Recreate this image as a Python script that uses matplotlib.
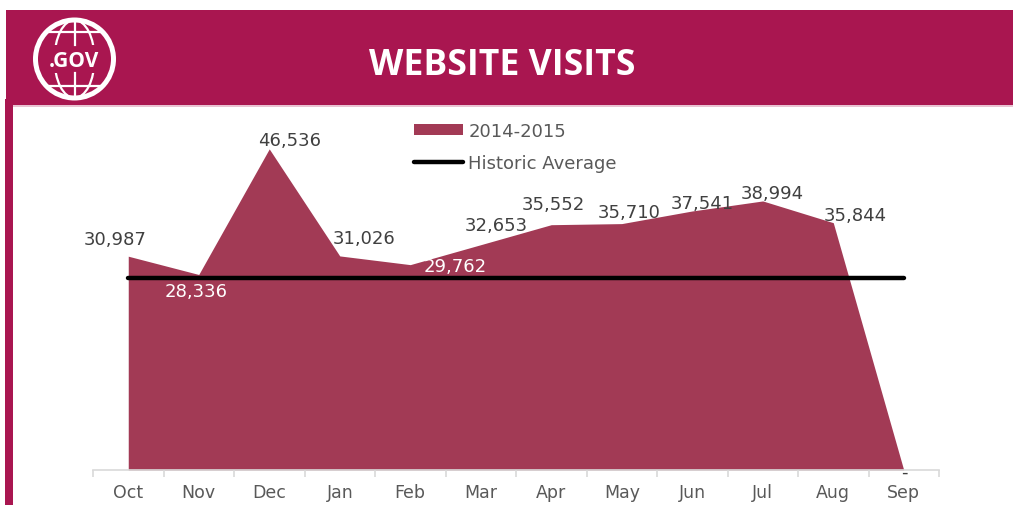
import matplotlib
matplotlib.use('Agg')
import matplotlib.pyplot as plt
import numpy as np
from matplotlib.patches import Rectangle, Circle, Ellipse

months = ['Oct', 'Nov', 'Dec', 'Jan', 'Feb', 'Mar', 'Apr', 'May', 'Jun', 'Jul', 'Aug', 'Sep']
visits = [30987, 28336, 46536, 31026, 29762, 32653, 35552, 35710, 37541, 38994, 35844, 0]
labels = ['30,987', '28,336', '46,536', '31,026', '29,762', '32,653', '35,552', '35,710',
          '37,541', '38,994', '35,844', '-']
historic_avg = [27850] * 12

W, H = 1013, 506
RED = '#A91650'
AREA = '#A23A55'
GREY = '#595959'

plt.rcParams['font.family'] = ['DejaVu Sans']

fig = plt.figure(figsize=(W / 100, H / 100), dpi=100)

# header + logo, in pixel coords
bg = fig.add_axes([0, 0, 1, 1])
bg.set_xlim(0, W)
bg.set_ylim(H, 0)
bg.axis('off')
bg.add_patch(Rectangle((6, 11), W - 6, 95, color=RED, lw=0))
bg.add_patch(Rectangle((5, 100), 8, H - 100, color=RED, lw=0))
bg.add_patch(Rectangle((13, 106), W - 13, 1.5, color='#e9c3d2', lw=0))
bg.text(502, 66, 'WEBSITE VISITS', color='white', fontsize=25.6, fontweight='bold',
        ha='center', va='center', family=['Open Sans', 'DejaVu Sans'])

bg.add_patch(Circle((74.5, 60), 39, fc='none', ec='white', lw=3.6))
bg.add_patch(Ellipse((74.5, 60), 40, 78, fc='none', ec='white', lw=1.6))
bg.plot([74.5, 74.5], [22, 46], color='white', lw=1.6)
bg.plot([74.5, 74.5], [74, 98], color='white', lw=1.6)
bg.plot([46, 103], [33, 33], color='white', lw=1.6)
bg.plot([46, 103], [87, 87], color='white', lw=1.6)
bg.add_patch(Rectangle((42, 46), 66, 28, color=RED, lw=0))
bg.text(74, 61, '.GOV', color='white', fontsize=15, fontweight='bold', ha='center', va='center',
        family=['Open Sans', 'DejaVu Sans'])

# chart
ax = fig.add_axes([93 / W, 1 - 471 / H, 846 / W, 345 / H])
ax.patch.set_alpha(0)
x = np.arange(len(months))
ax.fill_between(x, visits, 0, color=AREA, lw=0, label='2014-2015')
line, = ax.plot(x, historic_avg, color='black', lw=3.2, solid_capstyle='round',
                label='Historic Average', clip_on=False)
ax.set_xlim(-0.5, 11.5)
ax.set_ylim(0, 50000)

for s in ['top', 'left', 'right']:
    ax.spines[s].set_visible(False)
ax.spines['bottom'].set_color('#d9d9d9')
ax.spines['bottom'].set_linewidth(1.2)
ax.set_yticks([])
ax.set_xticks(x)
ax.set_xticklabels(months, color=GREY, fontsize=12.5)
ax.set_xticks(np.arange(-0.5, 12), minor=True)
ax.tick_params(axis='x', which='major', length=0, pad=9.5)
ax.tick_params(axis='x', which='minor', length=5, width=1.2, color='#d9d9d9')

# label offsets in pixels, placed by hand like the original
offsets = [(-13, 17), (-3, -17), (20, 9), (24, 18), (45, -1), (16, 20),
           (2, 21), (7, 12), (10, 8), (9, 8), (22, 8), (1, -2)]
label_colors = ['#404040', 'white', '#404040', '#404040', 'white', '#404040', '#404040',
                '#404040', '#404040', '#404040', '#404040', '#404040']
for i, lab in enumerate(labels):
    ax.annotate(lab, (x[i], visits[i]), xytext=offsets[i], textcoords='offset pixels',
                ha='center', va='center', fontsize=13, color=label_colors[i],
                annotation_clip=False, zorder=5)

handles, names = ax.get_legend_handles_labels()
order = [names.index('2014-2015'), names.index('Historic Average')]
ax.legend([handles[i] for i in order], [names[i] for i in order],
          loc='upper left', bbox_to_anchor=(321 / 846, 1.008), frameon=False,
          labelcolor=GREY, fontsize=13, handlelength=2.7, handleheight=0.55,
          handletextpad=0.3, labelspacing=0.78, borderpad=0, borderaxespad=0)

fig.savefig('out.png', dpi=100)
